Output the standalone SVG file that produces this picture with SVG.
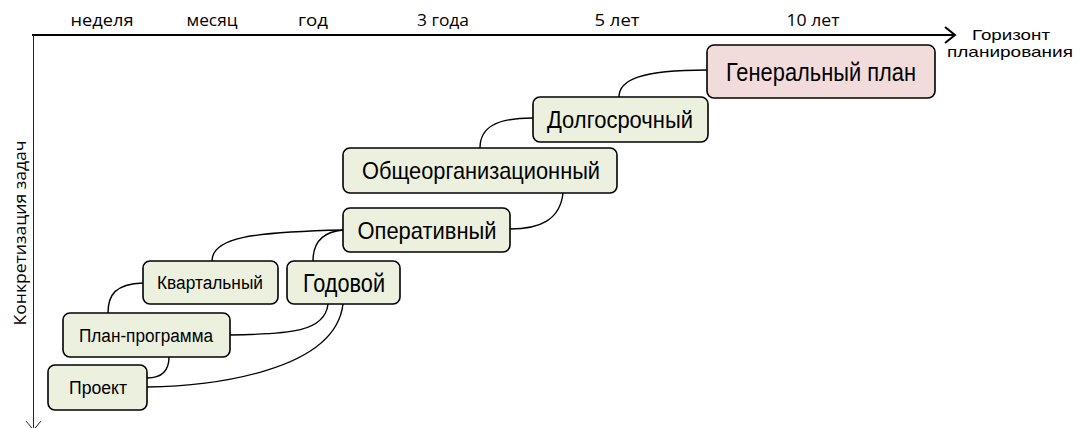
<svg xmlns="http://www.w3.org/2000/svg" width="1080" height="428" viewBox="0 0 1080 428">
<style>
.node{stroke:#000;stroke-width:1.6}
.g{fill:#EBF1DE}
.p{fill:#F2DCDB}
.nt{font-family:"Liberation Sans",Arial,sans-serif;fill:#000;text-anchor:middle}
.lab{font-family:"Open Sans","Liberation Sans",sans-serif;font-size:16px;fill:#000;text-anchor:middle}
.hz{font-family:"Liberation Sans",Arial,sans-serif;font-size:15px;fill:#000;text-anchor:middle}
.c{fill:none;stroke:#000;stroke-width:1.4}
</style>
<rect width="1080" height="428" fill="#fff"/>
<g id="axes">
<line x1="32" y1="35" x2="955" y2="35" stroke="#000" stroke-width="2"/>
<polyline points="945,27 955,35 945,43" fill="none" stroke="#000" stroke-width="2"/>
<line x1="33.5" y1="35" x2="33.5" y2="430" stroke="#222" stroke-width="1"/>
<polyline points="26,421 33.5,430 41,421" fill="none" stroke="#222" stroke-width="1"/>
</g>
<g id="axis-labels">
<text class="lab" x="102" y="26" textLength="63" lengthAdjust="spacingAndGlyphs">неделя</text>
<text class="lab" x="212" y="26" textLength="51" lengthAdjust="spacingAndGlyphs">месяц</text>
<text class="lab" x="313" y="26" textLength="30" lengthAdjust="spacingAndGlyphs">год</text>
<text class="lab" x="443" y="26" textLength="52" lengthAdjust="spacingAndGlyphs">3 года</text>
<text class="lab" x="617" y="26" textLength="45" lengthAdjust="spacingAndGlyphs">5 лет</text>
<text class="lab" x="813" y="26" textLength="53" lengthAdjust="spacingAndGlyphs">10 лет</text>
<text class="hz" x="1011" y="40" textLength="78" lengthAdjust="spacingAndGlyphs">Горизонт</text>
<text class="hz" x="1010" y="57" textLength="126" lengthAdjust="spacingAndGlyphs">планирования</text>
<text class="lab" transform="translate(26,233) rotate(-90)" x="0" y="0" textLength="185" lengthAdjust="spacingAndGlyphs">Конкретизация задач</text>
</g>
<g id="connectors">
<path class="c" d="M707,70 C640,70 619,80 619,97"/>
<path class="c" d="M533,118 C495,118 480,128 480,148"/>
<path class="c" d="M563,193 C560,220 540,229 510,229"/>
<path class="c" d="M343,230 C250,232 212,238 212,261"/>
<path class="c" d="M343,230 C320,232 313,245 313,261"/>
<path class="c" d="M143,283 C115,284 108,295 108,313"/>
<path class="c" d="M328,304 C325,332 290,334 230,335"/>
<path class="c" d="M343,304 C335,372 210,386 147,387"/>
<path class="c" d="M169,357 C169,372 160,378 147,378"/>
</g>
<g id="n-general">
<rect class="node p" x="707" y="45" width="228" height="53" rx="7"/>
<text class="nt" x="821" y="81" font-size="26" textLength="190" lengthAdjust="spacingAndGlyphs">Генеральный план</text>
</g>
<g id="n-dolgo">
<rect class="node g" x="533" y="97" width="175" height="45" rx="7"/>
<text class="nt" x="620" y="128" font-size="24" textLength="146" lengthAdjust="spacingAndGlyphs">Долгосрочный</text>
</g>
<g id="n-obshe">
<rect class="node g" x="343" y="148" width="274" height="45" rx="7"/>
<text class="nt" x="481" y="179" font-size="24" textLength="238" lengthAdjust="spacingAndGlyphs">Общеорганизационный</text>
</g>
<g id="n-operativ">
<rect class="node g" x="343" y="208" width="167" height="44" rx="7"/>
<text class="nt" x="427" y="239" font-size="24" textLength="139" lengthAdjust="spacingAndGlyphs">Оперативный</text>
</g>
<g id="n-kvartal">
<rect class="node g" x="143" y="261" width="135" height="43" rx="7"/>
<text class="nt" x="210" y="289" font-size="18" textLength="106" lengthAdjust="spacingAndGlyphs">Квартальный</text>
</g>
<g id="n-godovoi">
<rect class="node g" x="287" y="261" width="113" height="43" rx="7"/>
<text class="nt" x="344" y="292" font-size="25" textLength="82" lengthAdjust="spacingAndGlyphs">Годовой</text>
</g>
<g id="n-planprog">
<rect class="node g" x="63" y="313" width="167" height="44" rx="7"/>
<text class="nt" x="146" y="342" font-size="18" textLength="134" lengthAdjust="spacingAndGlyphs">План-программа</text>
</g>
<g id="n-proekt">
<rect class="node g" x="48" y="365" width="99" height="45" rx="7"/>
<text class="nt" x="98" y="394" font-size="18" textLength="58" lengthAdjust="spacingAndGlyphs">Проект</text>
</g>
</svg>
